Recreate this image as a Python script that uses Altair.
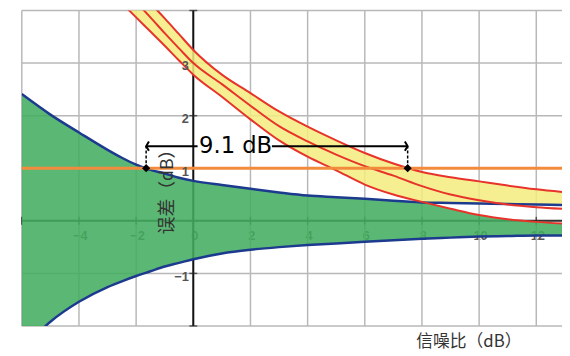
import altair as alt
import pandas as pd

# ---------------- data ----------------
snr = [-6, -5, -4, -3, -2.5, -2, -1.5, -1, -0.5, 0, 1, 2, 3, 4, 5, 6, 7, 8, 9, 10, 11, 12, 12.9]
blue_upper = [2.41, 2.02, 1.68, 1.35, 1.2, 1.07, 0.97, 0.9, 0.82, 0.76, 0.68, 0.61, 0.54,
              0.48, 0.45, 0.42, 0.38, 0.35, 0.34, 0.33, 0.32, 0.31, 0.30]
blue_lower = [-2.45, -1.92, -1.54, -1.26, -1.15, -1.05, -0.96, -0.87, -0.8, -0.73, -0.62, -0.55, -0.5,
              -0.46, -0.43, -0.40, -0.37, -0.34, -0.32, -0.30, -0.29, -0.28, -0.28]
N = None
red_upper = [N, N, N, N, 4.75, 4.44, 4.14, 3.85, 3.55, 3.25, 2.78, 2.43, 2.08, 1.79, 1.53,
             1.29, 1.09, 0.93, 0.83, 0.75, 0.67, 0.60, 0.55]
red_mid = [N, N, N, N, 4.45, 4.16, 3.87, 3.57, 3.28, 3.0, 2.6, 2.19, 1.8, 1.51, 1.26,
           1.04, 0.86, 0.66, 0.5, 0.39, 0.31, 0.26, 0.23]
red_lower = [N, N, N, N, 4.14, 3.87, 3.6, 3.33, 3.05, 2.78, 2.36, 1.93, 1.53, 1.22, 0.96,
             0.69, 0.5, 0.36, 0.23, 0.11, 0.03, -0.02, -0.05]

x_grid = [-6, -4, -2, 0, 2, 4, 6, 8, 10, 12]
y_grid = [-2, -1, 0, 1, 2, 3, 4]
x_labels = [-4, -2, 0, 2, 4, 6, 8, 10, 12]
y_labels = [-1, 1, 2, 3]
threshold = [1.0]
marker_x = [-1.65, 7.5]
arrow_y = 1.42
arrow_seg_start = [-1.65, 2.75]
arrow_seg_end = [0.15, 7.5]
gap_label = ["9.1 dB"]
gap_label_x = [0.2]
x_title = "信噪比（dB）"
y_title = "误差（dB）"

# ---------------- tables ----------------
df = pd.DataFrame({"snr": snr, "bu": blue_upper, "bl": blue_lower,
                   "ru": red_upper, "rm": red_mid, "rl": red_lower})
df["green_top"] = df[["bu", "rl"]].min(axis=1)
df["yellow_bottom"] = df[["bu", "rl"]].max(axis=1)
df.loc[df["ru"].isna(), "yellow_bottom"] = None

blue_long = df.melt(id_vars="snr", value_vars=["bu", "bl"], var_name="curve", value_name="val")
red_long = df.melt(id_vars="snr", value_vars=["ru", "rm", "rl"], var_name="curve",
                   value_name="val").dropna()

W, H = 548, 320
X_DOM = [-6, 12.9]
Y_DOM = [-2, 4]
xs = alt.Scale(domain=X_DOM, nice=False, zero=False)
ys = alt.Scale(domain=Y_DOM, nice=False, zero=False)

x_off = -H * (0 - Y_DOM[0]) / (Y_DOM[1] - Y_DOM[0])
y_off = -W * (0 - X_DOM[0]) / (X_DOM[1] - X_DOM[0])

xaxis = alt.Axis(values=x_labels, offset=x_off, domain=False, ticks=False, grid=False,
                 labelFont="Liberation Sans", labelFontSize=13, labelFontWeight="bold",
                 labelColor="#555555",
                 labelPadding=9, labelOffset=1, labelFlush=False, labelOverlap=False,
                 title=x_title, titleFont="Noto Sans CJK SC", titleFontSize=17,
                 titleFontWeight="normal", titleColor="#333333", titleX=453, titleY=123,
                 titleAlign="center", titleBaseline="middle", zindex=0)
yaxis = alt.Axis(values=y_labels, offset=y_off, domain=False, ticks=False, grid=False,
                 labelFont="Liberation Sans", labelFontSize=13, labelFontWeight="bold",
                 labelColor="#555555",
                 labelPadding=5, labelOffset=3, labelFlush=False, labelOverlap=False,
                 title=y_title, titleFont="Noto Sans CJK SC", titleFontSize=18,
                 titleFontWeight="normal", titleColor="#333333", titleX=-26, titleY=179,
                 titleAngle=270, titleAlign="center", titleBaseline="middle", zindex=1)


def X(f):
    return alt.X(f, type="quantitative", scale=xs, axis=xaxis)


def Y(f):
    return alt.Y(f, type="quantitative", scale=ys, axis=yaxis)


vgrid = alt.Chart(pd.DataFrame({"v": x_grid})).mark_rule(
    color="#b8b8b8", strokeWidth=1.5).encode(x=X("v"))
hgrid = alt.Chart(pd.DataFrame({"v": y_grid})).mark_rule(
    color="#b8b8b8", strokeWidth=1.5).encode(y=Y("v"))
yline = alt.Chart(pd.DataFrame({"v": [0]})).mark_rule(
    color="#111111", strokeWidth=2).encode(x=X("v"))
xline = alt.Chart(pd.DataFrame({"v": [0]})).mark_rule(
    color="#333333", strokeWidth=2).encode(y=Y("v"))
xticks = alt.Chart(pd.DataFrame({"v": x_grid, "z": [0] * len(x_grid)})).mark_tick(
    orient="vertical", size=8, thickness=1.5, color="#222222").encode(x=X("v"), y=Y("z"))
yticks = alt.Chart(pd.DataFrame({"v": y_grid, "z": [0] * len(y_grid)})).mark_tick(
    orient="horizontal", size=8, thickness=1.5, color="#222222").encode(y=Y("v"), x=X("z"))

green = alt.Chart(df).mark_area(
    color="#43ad5f", opacity=0.87, interpolate="monotone", clip=True
).encode(x=X("snr"), y=Y("bl"), y2=alt.Y2("green_top"))
yellow = alt.Chart(df).mark_area(
    color="#f3ec7e", opacity=0.85, interpolate="monotone", clip=True
).encode(x=X("snr"), y=Y("ru"), y2=alt.Y2("yellow_bottom"))

blue_lines = alt.Chart(blue_long).mark_line(
    color="#1c3a8e", strokeWidth=2.5, interpolate="monotone", clip=True
).encode(x=X("snr"), y=Y("val"), detail="curve:N")
red_lines = alt.Chart(red_long).mark_line(
    color="#e8332a", strokeWidth=2, interpolate="monotone", clip=True
).encode(x=X("snr"), y=Y("val"), detail="curve:N")

orange = alt.Chart(pd.DataFrame({"v": threshold})).mark_rule(
    color="#f28c3c", strokeWidth=3).encode(y=Y("v"))

seg_df = pd.DataFrame({"x1": arrow_seg_start, "x2": arrow_seg_end, "y": [arrow_y] * 2})
arrow_line = alt.Chart(seg_df).mark_rule(color="black", strokeWidth=2).encode(
    x=X("x1"), x2=alt.X2("x2"), y=Y("y"))

drop_df = pd.DataFrame({"x": marker_x, "y1": threshold * 2, "y2": [arrow_y] * 2})
drops = alt.Chart(drop_df).mark_rule(color="black", strokeWidth=1.5, strokeDash=[3, 2]).encode(
    x=X("x"), y=Y("y1"), y2=alt.Y2("y2"))

head_l = alt.Chart(pd.DataFrame({"x": [marker_x[0]], "y": [arrow_y]})).mark_point(
    shape="M 0.6 -1 L 0 0 L 0.6 1", filled=False, stroke="black", strokeWidth=2,
    size=90, opacity=1).encode(x=X("x"), y=Y("y"))
head_r = alt.Chart(pd.DataFrame({"x": [marker_x[1]], "y": [arrow_y]})).mark_point(
    shape="M -0.6 -1 L 0 0 L -0.6 1", filled=False, stroke="black", strokeWidth=2,
    size=90, opacity=1).encode(x=X("x"), y=Y("y"))

diamonds = alt.Chart(pd.DataFrame({"x": marker_x, "y": threshold * 2})).mark_point(
    shape="diamond", filled=True, color="black", size=70, opacity=1).encode(
    x=X("x"), y=Y("y"))

label = alt.Chart(pd.DataFrame({"x": gap_label_x, "y": [arrow_y], "t": gap_label})).mark_text(
    align="left", baseline="middle", font="DejaVu Sans", fontSize=23, color="black"
).encode(x=X("x"), y=Y("y"), text="t:N")

chart = alt.layer(
    vgrid, hgrid, yline, xline, xticks, yticks,
    green, yellow, blue_lines, red_lines, orange,
    arrow_line, drops, head_l, head_r, diamonds, label
).properties(
    width=W, height=H,
    padding={"left": 14, "top": 0, "right": 0, "bottom": 34},
    autosize=alt.AutoSizeParams(type="none"),
).configure_view(stroke=None)

chart.save("out.html", embed_options={"renderer": "svg", "actions": False})
